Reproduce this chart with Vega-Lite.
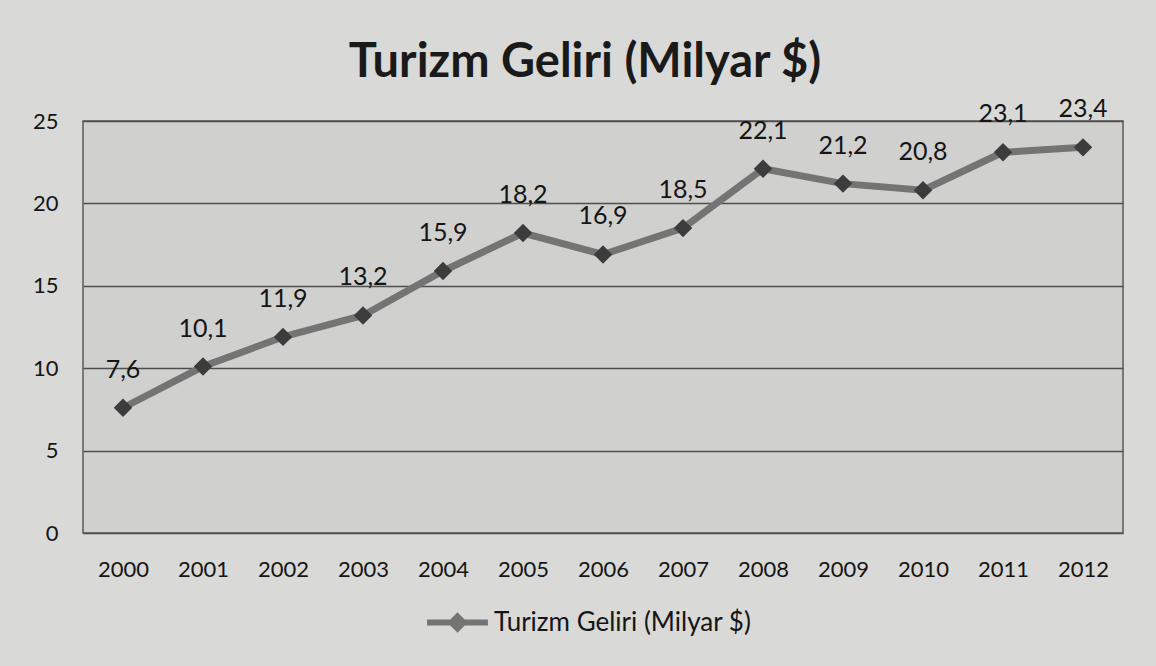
{
  "$schema": "https://vega.github.io/schema/vega-lite/v6.json",
  "width": 1040,
  "height": 412,
  "autosize": {"type": "none"},
  "padding": {"left": 83, "top": 121, "right": 33, "bottom": 133},
  "background": "#d9d9d7",
  "config": {
    "font": "Lato",
    "view": {"fill": "#d0d0ce", "stroke": "#5a5a5a", "strokeWidth": 1.5}
  },
  "title": {
    "text": "Turizm Geliri (Milyar $)",
    "fontSize": 47,
    "font": "Lato",
    "fontWeight": "bold",
    "color": "#1a1a1a",
    "anchor": "middle",
    "dx": -18,
    "offset": 10
  },
  "data": {
    "values": [
      {"yil": "2000", "gelir": 7.6, "etiket": "7,6", "seri": "Turizm Geliri (Milyar $)"},
      {"yil": "2001", "gelir": 10.1, "etiket": "10,1", "seri": "Turizm Geliri (Milyar $)"},
      {"yil": "2002", "gelir": 11.9, "etiket": "11,9", "seri": "Turizm Geliri (Milyar $)"},
      {"yil": "2003", "gelir": 13.2, "etiket": "13,2", "seri": "Turizm Geliri (Milyar $)"},
      {"yil": "2004", "gelir": 15.9, "etiket": "15,9", "seri": "Turizm Geliri (Milyar $)"},
      {"yil": "2005", "gelir": 18.2, "etiket": "18,2", "seri": "Turizm Geliri (Milyar $)"},
      {"yil": "2006", "gelir": 16.9, "etiket": "16,9", "seri": "Turizm Geliri (Milyar $)"},
      {"yil": "2007", "gelir": 18.5, "etiket": "18,5", "seri": "Turizm Geliri (Milyar $)"},
      {"yil": "2008", "gelir": 22.1, "etiket": "22,1", "seri": "Turizm Geliri (Milyar $)"},
      {"yil": "2009", "gelir": 21.2, "etiket": "21,2", "seri": "Turizm Geliri (Milyar $)"},
      {"yil": "2010", "gelir": 20.8, "etiket": "20,8", "seri": "Turizm Geliri (Milyar $)"},
      {"yil": "2011", "gelir": 23.1, "etiket": "23,1", "seri": "Turizm Geliri (Milyar $)"},
      {"yil": "2012", "gelir": 23.4, "etiket": "23,4", "seri": "Turizm Geliri (Milyar $)"}
    ]
  },
  "encoding": {
    "x": {
      "field": "yil", "type": "ordinal",
      "scale": {"type": "point", "padding": 0.5},
      "axis": {
        "title": null, "labelAngle": 0, "ticks": false, "domain": false, "grid": false,
        "labelFontSize": 22, "labelColor": "#151515", "labelPadding": 26, "labelFont": "Lato"
      }
    },
    "y": {
      "field": "gelir", "type": "quantitative",
      "scale": {"domain": [0, 25]},
      "axis": {
        "title": null, "values": [0, 5, 10, 15, 20, 25], "ticks": false, "domain": false,
        "grid": true, "gridColor": "#4e4e4e", "gridWidth": 1.5, "gridOpacity": 1,
        "labelFontSize": 22, "labelColor": "#151515", "labelPadding": 25, "labelFont": "Lato"
      }
    }
  },
  "layer": [
    {
      "mark": {"type": "line", "color": "#747474", "strokeWidth": 7},
      "encoding": {
        "color": {
          "field": "seri", "type": "nominal",
          "scale": {"range": ["#747474"]},
          "legend": {
            "title": null, "orient": "none", "legendX": 358, "legendY": 485,
            "labelFontSize": 26, "labelColor": "#151515", "labelFont": "Lato", "labelLimit": 500,
            "symbolType": "M-2.3,0L2.3,0M0,-0.45L0.45,0L0,0.45L-0.45,0Z",
            "symbolSize": 700, "symbolStrokeWidth": 6, "symbolStrokeColor": "#747474",
            "symbolFillColor": "#4a4a4a", "labelOffset": 20
          }
        }
      }
    },
    {
      "mark": {"type": "point", "shape": "diamond", "filled": true, "color": "#3c3c3c", "size": 340, "opacity": 1}
    },
    {
      "mark": {"type": "text", "dy": -38, "fontSize": 25, "color": "#151515", "font": "Lato"},
      "encoding": {"text": {"field": "etiket"}}
    }
  ]
}
